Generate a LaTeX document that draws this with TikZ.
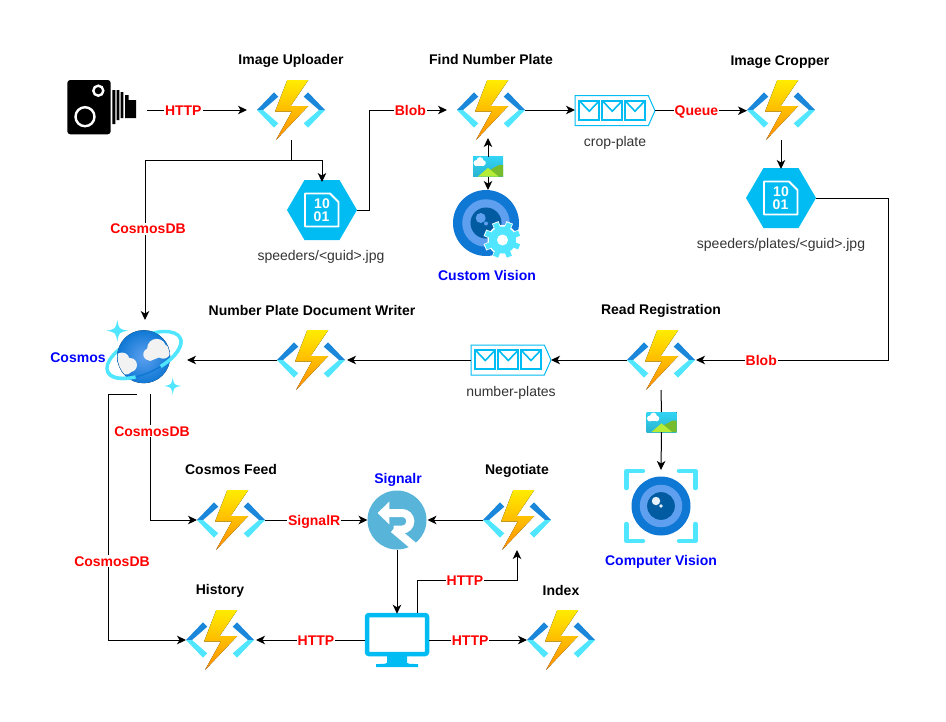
\documentclass[tikz,border=0pt]{standalone}
\usepackage{fontspec}
\setmainfont{Liberation Sans}
\usetikzlibrary{arrows.meta,calc}

\definecolor{azure}{HTML}{00BCF2}
\definecolor{lightcy}{HTML}{50E6FF}
\definecolor{darkaz}{HTML}{1B87DB}
\definecolor{ringa}{HTML}{0F78D4}
\definecolor{ringb}{HTML}{5EA0EF}
\definecolor{ringc}{HTML}{005BA1}
\definecolor{skyb}{HTML}{32D4F5}
\definecolor{signalb}{HTML}{59B4D9}
\definecolor{grtxt}{HTML}{333333}
\definecolor{hillone}{HTML}{B4EC36}
\definecolor{hilltwo}{HTML}{76BC2D}

\tikzset{
  flow/.style={draw=black,line width=1pt,-{Stealth[length=9pt,width=8.5pt,inset=2.5pt]}},
  gap/.style={shorten >=10pt},
  lbl/.style={fill=white,inner sep=1pt,text height=10pt,text depth=0pt,text=red,font=\fontsize{14}{16}\selectfont\bfseries},
  title/.style={inner sep=0pt,text height=10pt,text depth=0pt,font=\fontsize{14}{16}\selectfont\bfseries},
  svc/.style={inner sep=0pt,text height=10pt,text depth=0pt,text=blue,font=\fontsize{14}{16}\selectfont\bfseries},
  captext/.style={inner sep=0pt,text height=10pt,text depth=0pt,text=grtxt,font=\fontsize{14}{16}\selectfont},
  funcbox/.style={inner sep=0pt,outer sep=0pt,minimum width=68pt,minimum height=60pt},
  hexbox/.style={inner sep=0pt,outer sep=0pt,minimum width=70pt,minimum height=60pt},
  quebox/.style={inner sep=0pt,outer sep=0pt,minimum width=80pt,minimum height=30pt},
  imgbox/.style={inner sep=0pt,outer sep=0pt,minimum width=30pt,minimum height=20pt},
  funcicon/.pic={
    \fill[top color=yellow!85!orange,bottom color=orange!90!yellow]
      (17.3,-30) -- (-3.7,-30) -- (-16,1.7) -- (0.7,1.7) -- (-15,30) -- (17.3,-4) -- (-0.3,-4) -- cycle;
    \foreach \s in {1,-1} {
      \begin{scope}[xscale=\s]
        \fill[darkaz] (-34,0) -- (-17,-17.7) -- (-12.7,-13.3) -- (-28,0) -- cycle;
        \fill[lightcy] (-34,0) -- (-17,17.7) -- (-12.7,13.3) -- (-28,0) -- cycle;
      \end{scope}
    }
  },
  bloboicon/.pic={
    \fill[azure] (-35,0) -- (-17.5,-30) -- (17.5,-30) -- (35,0) -- (17.5,30) -- (-17.5,30) -- cycle;
    \draw[white,line width=1.8pt,line join=round] (-17,-16.5) -- (8,-16.5) -- (16.5,-8) -- (16.5,16.5) -- (-17,16.5) -- cycle;
    \node[inner sep=0pt,text=white,font=\fontsize{14}{16}\selectfont\bfseries] (bitshi) at (0,-6.7) {10};
    \node[inner sep=0pt,text=white,font=\fontsize{14}{16}\selectfont\bfseries] (bitslo) at (-0.5,6.7) {01};
  },
  queueicon/.pic={
    \draw[azure,line width=1pt,fill=white] (-40,-15) -- (33.3,-15) -- (40,0) -- (33.3,15) -- (-40,15) -- cycle;
    \foreach \x in {-35.7,-12.7,10} {
      \draw[azure,line width=2pt] (\x,-10) rectangle ++(20,19.3);
      \draw[azure,line width=1.6pt] (\x,-10) -- ++(10,10.5) -- ++(10,-10.5);
    }
  },
  imgicon/.pic={
    \fill[top color=skyb,bottom color=skyb!85!black] (-15,-10) rectangle (15,10);
    \fill[hilltwo] (1,4) -- (11,-1.5) -- (15,-1.5) -- (15,10) -- (6,10) -- cycle;
    \fill[hillone] (-10,10) -- (0,1.3) -- (10.5,10) -- cycle;
    \fill[white] (-11.5,-3.5) circle (3);
    \fill[white] (-8,-6) circle (3.4);
    \fill[white] (-5,-3.5) circle (2.8);
    \fill[white] (-13,-3) rectangle (-4,-1);
  },
  cvrings/.pic={
    \fill[ringa] (0,0) circle (#1);
    \fill[ringb] (0,0) circle (0.72*#1);
    \fill[ringc] (0,0) circle (0.47*#1);
  },
  sparkle/.pic={
    \fill[lightcy] (0,-#1) .. controls (0.15*#1,-0.15*#1) .. (#1,0)
      .. controls (0.15*#1,0.15*#1) .. (0,#1)
      .. controls (-0.15*#1,0.15*#1) .. (-#1,0)
      .. controls (-0.15*#1,-0.15*#1) .. cycle;
  },
}

\newcommand{\funcat}[2]{\node[funcbox] (#1) at (#2) {}; \pic at (#1) {funcicon};}
\newcommand{\hexat}[2]{\node[hexbox] (#1) at (#2) {}; \pic (#1p) at (#1) {bloboicon};}
\newcommand{\queat}[2]{\node[quebox] (#1) at (#2) {}; \pic at (#1) {queueicon};}
\newcommand{\imgat}[2]{\node[imgbox] (#1) at (#2) {}; \pic at (#1) {imgicon};}

\begin{document}
\begin{tikzpicture}[x=1pt,y=-1pt]
  \useasboundingbox (0,0) rectangle (946,721);

  % camera
  \node[inner sep=0pt,outer sep=0pt,minimum width=80pt,minimum height=54pt] (camera) at (107,107) {};
  \fill[black,rounded corners=3pt] (67.3,80) rectangle (110.7,134.3);
  \draw[white,line width=2.4pt] (98.3,90.7) circle (5) (85,116.7) circle (9.5);
  \fill[black] (112.3,90) rectangle (115.3,124) (116.7,90) rectangle (119.3,120)
    (120.7,92) rectangle (123.3,118) (125,95) -- (128.5,95) -- (128.5,100) -- (136,100) -- (136,118) -- (125,118) -- cycle;

  % top row
  \funcat{uploader}{291,110}
  \funcat{finder}{491,110}
  \funcat{cropper}{781,110}
  \hexat{blobone}{322,210}
  \hexat{blobtwo}{781,198}
  \queat{queueone}{615,110.7}
  \imgat{imgone}{488,166.5}
  \node[inner sep=0pt,outer sep=0pt,minimum width=66pt,minimum height=66pt] (customv) at (486,223) {};
  \pic at (customv) {cvrings=33};
  \fill[ringb] (480.7,218) circle (5) (486,223.5) circle (2);
  \begin{scope}[shift={(502.5,240)}]
    \foreach \a in {0,45,...,315} \draw[white,line width=7pt] (0,0) -- (\a+22.5:19);
    \fill[white] (0,0) circle (15);
    \foreach \a in {0,45,...,315} \draw[lightcy,line width=5.5pt] (0,0) -- (\a+22.5:18);
    \fill[lightcy] (0,0) circle (13.5);
    \fill[white] (0,0) circle (5.5);
  \end{scope}

  \node[title] (uploadertitle) at (291,59) {Image Uploader};
  \node[title] (findertitle) at (491,59) {Find Number Plate};
  \node[title] (croppertitle) at (780,60) {Image Cropper};
  \node[captext] (bloboneCap) at (321,255) {speeders/<guid>.jpg};
  \node[captext] (blobtwoCap) at (781,243) {speeders/plates/<guid>.jpg};
  \node[captext] (queueoneCap) at (615,141) {crop-plate};
  \node[svc] (customvName) at (487,275) {Custom Vision};

  % middle row
  \funcat{reader}{661,360}
  \funcat{writer}{311,360}
  \queat{queuetwo}{511,360}
  \imgat{imgtwo}{661.5,422}
  \node[inner sep=0pt,outer sep=0pt,minimum width=74pt,minimum height=74pt] (compv) at (661,506) {};
  \pic at (compv) {cvrings=29.5};
  \fill[white!85!ringb] (656,501) circle (4.2);
  \fill[white!85!ringb] (661,506) circle (1.8);
  \begin{scope}[shift={(661,506)},lightcy,line width=4.5pt,line cap=round,line join=round]
    \draw (-34.5,-18) -- (-34.5,-35) -- (-18,-35);
    \draw (18,-35) -- (34.5,-35) -- (34.5,-18);
    \draw (-34.5,18) -- (-34.5,35) -- (-18,35);
    \draw (18,35) -- (34.5,35) -- (34.5,18);
  \end{scope}

  \node[title] (readertitle) at (661,309) {Read Registration};
  \node[title] (writertitle) at (312,310) {Number Plate Document Writer};
  \node[captext] (queuetwoCap) at (511,391) {number-plates};
  \node[svc] (compvName) at (661,560) {Computer Vision};

  % cosmos
  \node[inner sep=0pt,outer sep=0pt,minimum width=84pt,minimum height=74pt] (cosmos) at (145,357) {};
  \draw[lightcy,line width=3.4pt,rotate around={25:(144,355)}] (144,355) ellipse [x radius=40pt,y radius=18pt];
  \fill[inner color=ringb,outer color=ringa] (143.7,356.7) circle (26.5);
  \begin{scope}
    \clip (143.7,356.7) circle (26);
    \fill[black!5] (156.7,348.3) circle (9.5);
    \fill[black!5] (149.3,354.3) circle (6);
    \fill[black!5] (163.3,351.7) circle (7);
    \fill[black!5] (145,358.3) -- (150,361) -- (170,353) -- (156,345) -- cycle;
    \fill[black!5] (122,360) circle (7.5);
    \fill[black!5] (130,365) circle (7);
    \fill[black!5] (126,368) circle (6.5);
  \end{scope}
  \begin{scope}[rotate around={25:(144,355)},line width=3.4pt]
    \draw[ringa,line width=1.4pt] (144,355) ++(245:40pt and 18pt) arc [start angle=245,end angle=285,x radius=40pt,y radius=18pt];
    \draw[lightcy] (104,355) arc [start angle=180,end angle=245,x radius=40pt,y radius=18pt];
    \draw[lightcy] (184,355) arc [start angle=360,end angle=285,x radius=40pt,y radius=18pt];
  \end{scope}
  \pic at (117.3,330.7) {sparkle=11};
  \pic at (172.7,386) {sparkle=8.5};
  \node[svc] (cosmosName) at (78,357) {Cosmos};

  % bottom rows
  \funcat{feed}{231,520}
  \funcat{negotiate}{517,520}
  \funcat{history}{220,640}
  \funcat{indexer}{561,640}
  \node[circle,fill=signalb,inner sep=0pt,outer sep=0pt,minimum size=59pt] (signal) at (397,520) {};
  \begin{scope}[shift={(397,519)},white]
    \fill (-19.3,-6) -- (-7.7,-17.5) -- (-7.7,5.5) -- cycle;
    \draw[line width=8pt] (-8,-6) -- (5,-6) arc [start angle=90,end angle=-90,radius=8.3pt] -- (-3.5,10.6);
    \draw[line width=8pt] (-3.5,10) -- (19,29);
  \end{scope}
  \node[inner sep=0pt,outer sep=0pt,minimum width=64pt,minimum height=54.5pt] (monitor) at (397,640) {};
  \begin{scope}[shift={(397,640)}]
    \draw[azure,line width=4.5pt,rounded corners=2pt] (-30,-25) rectangle (30,14);
    \fill[azure] (-10,16) -- (10,16) -- (10,23) .. controls (12,24) .. (21,24) -- (21,27) -- (-21,27) -- (-21,24) .. controls (-12,24) .. (-10,23) -- cycle;
  \end{scope}

  \node[title] (feedtitle) at (231,469) {Cosmos Feed};
  \node[title] (negotiatetitle) at (517,469) {Negotiate};
  \node[title] (historytitle) at (220,589) {History};
  \node[title] (indexertitle) at (561,590) {Index};
  \node[svc] (signalName) at (398,478) {Signalr};

  % connectors
  \draw[flow,gap] (camera.east |- uploader.west) -- node[lbl,pos=.33] (httpa) {HTTP} (uploader.west);
  \coordinate (uploadjoin) at (291,160);
  \draw[flow] (uploader.south) -- (uploadjoin) -| ([yshift=-2pt]blobone.north);
  \draw[flow] (uploadjoin) -| node[lbl,pos=.715,xshift=3pt] (cosmosa) {CosmosDB} (cosmos.north);
  \coordinate (blobturn) at (369,110);
  \draw[flow,gap] (blobone.east) -| (blobturn) -- node[lbl,pos=.47] (bloba) {Blob} (finder.west);
  \draw[flow] (finder.east) -- (queueone.west |- finder.east);
  \draw[flow] (queueone.east) -- node[lbl,pos=.45] (queuea) {Queue} (cropper.west |- queueone.east);
  \draw[flow] (imgone.north) -- ([yshift=2pt]imgone.north |- finder.south);
  \draw[flow] (imgone.south) -- (imgone.south |- customv.north);
  \draw[flow] (cropper.south) -- ([yshift=-1pt]blobtwo.north);
  \coordinate (blobcorner) at (888,198);
  \draw[flow] (blobtwo.east) -- (blobcorner) |- node[lbl,pos=.83] (blobb) {Blob} ([xshift=1pt]reader.east);
  \draw[flow] (reader.west) -- (queuetwo.east);
  \draw[flow] (queuetwo.west) -- ([xshift=2pt]writer.east);
  \draw[flow] (writer.west) -- (writer.west -| cosmos.east);
  \draw[flow] (imgtwo.south) -- ([yshift=-1pt]compv.north);
  \draw[line width=1pt] (reader.south) -- (imgtwo.north);
  \coordinate (cosmosout) at (108,394);
  \draw[flow] ([xshift=-8pt]cosmos.south) -- (cosmosout) |- node[lbl,pos=.34,xshift=4pt] (cosmosc) {CosmosDB} (history.west);
  \draw[flow] ([xshift=5pt]cosmos.south) |- node[lbl,pos=.147,xshift=2pt] (cosmosb) {CosmosDB} (feed.west);
  \draw[flow] (feed.east) -- node[lbl,pos=.48] (signala) {SignalR} (signal.west);
  \draw[flow] (negotiate.west) -- ([xshift=1pt]signal.east);
  \draw[flow] (signal.south) -- ([yshift=-1pt]monitor.north);
  \coordinate (monitorup) at (417,580);
  \draw[flow] (monitorup |- monitor.north) -- (monitorup) -| node[lbl,pos=.24] (httpb) {HTTP} (negotiate.south);
  \draw[flow] (monitor.west) -- node[lbl,pos=.45] (httpc) {HTTP} ([xshift=2pt]history.east);
  \draw[flow] (monitor.east) -- node[lbl,pos=.42] (httpd) {HTTP} (indexer.west);
\end{tikzpicture}
\end{document}
